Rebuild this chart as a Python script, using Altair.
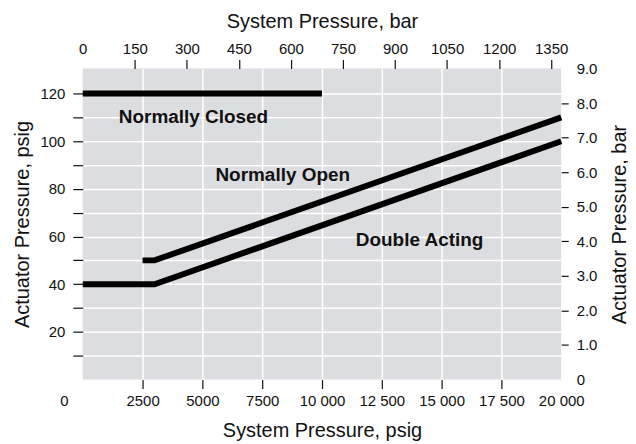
import altair as alt
import pandas as pd

# ---- data ----
closed_x = [0, 10000]
closed_y = [120, 120]
open_x = [2500, 3000, 20000]
open_y = [50, 50, 110]
double_x = [0, 3000, 20000]
double_y = [40, 40, 100]

label_text = ["Normally Closed", "Normally Open", "Double Acting"]
label_x = [4630, 8360, 14080]
label_y = [110.3, 85.8, 58.5]

psig_ticks = [0, 2500, 5000, 7500, 10000, 12500, 15000, 17500, 20000]
bar_sys_ticks = [0, 150, 300, 450, 600, 750, 900, 1050, 1200, 1350]
act_psig_ticks = [10, 20, 30, 40, 50, 60, 70, 80, 90, 100, 110, 120]
act_psig_labels = [20, 40, 60, 80, 100, 120]
act_bar_ticks = [0, 1, 2, 3, 4, 5, 6, 7, 8, 9]

PSI_PER_BAR = 14.5038
X_MAX = 20000
BAR_MAX = 9.0
Y_MAX = BAR_MAX * PSI_PER_BAR

rows = []
for name, xs, ys in [("Normally Closed", closed_x, closed_y),
                     ("Normally Open", open_x, open_y),
                     ("Double Acting", double_x, double_y)]:
    for i, (x, y) in enumerate(zip(xs, ys)):
        rows.append({"series": name, "order": i, "x": x, "y": y})
lines_df = pd.DataFrame(rows)
labels_df = pd.DataFrame({"text": label_text, "x": label_x, "y": label_y})
sec_df = pd.DataFrame({"xb": [0, X_MAX / PSI_PER_BAR], "yb": [0, BAR_MAX]})

FONT = "Liberation Sans"
label_list = "[" + ",".join(str(v) for v in act_psig_labels) + "]"

x_psig = alt.X(
    "x:Q",
    scale=alt.Scale(domain=[0, X_MAX], nice=False, zero=False),
    axis=alt.Axis(
        orient="bottom", title="System Pressure, psig", values=psig_ticks,
        labelExpr="datum.value >= 10000 ? replace(format(datum.value, ','), ',', ' ') : format(datum.value, 'd')",
        labelOverlap=False, labelFlush=False,
        tickSize=9, labelPadding=5, titlePadding=12,
        tickOpacity=alt.expr("datum.value == 0 || datum.value == 20000 ? 0 : 1"),
        gridOpacity=alt.expr("datum.value == 0 || datum.value == 20000 ? 0 : 1"),
        labelOffset=alt.expr("datum.value == 0 ? -19 : 0"),
        grid=True, domain=False,
    ),
)
y_psig = alt.Y(
    "y:Q",
    scale=alt.Scale(domain=[0, Y_MAX], nice=False),
    axis=alt.Axis(
        orient="left", title="Actuator Pressure, psig", values=act_psig_ticks,
        labelExpr="indexof(" + label_list + ", datum.value) >= 0 ? format(datum.value, 'd') : ''",
        labelOverlap=False, labelFlush=False,
        tickSize=10, labelPadding=8, titlePadding=7,
        grid=True, domain=False,
    ),
)

lines = alt.Chart(lines_df).mark_line(
    color="black", strokeWidth=6, strokeCap="butt", strokeJoin="miter"
).encode(x=x_psig, y=y_psig, detail="series:N", order="order:Q")

texts = alt.Chart(labels_df).mark_text(
    font=FONT, fontSize=19, fontWeight="bold", color="#111", baseline="middle", align="center"
).encode(x=x_psig, y=y_psig, text="text:N")

main = alt.layer(lines, texts)

sec = alt.Chart(sec_df).mark_point(opacity=0).encode(
    x=alt.X(
        "xb:Q",
        scale=alt.Scale(domain=[0, X_MAX / PSI_PER_BAR], nice=False),
        axis=alt.Axis(
            orient="top", title="System Pressure, bar", values=bar_sys_ticks,
            labelExpr="format(datum.value, 'd')", labelOverlap=False, labelFlush=False,
            tickSize=9, labelPadding=3, titlePadding=10, grid=False, domain=False,
            tickOpacity=alt.expr("datum.value == 0 ? 0 : 1"),
        ),
    ),
    y=alt.Y(
        "yb:Q",
        scale=alt.Scale(domain=[0, BAR_MAX], nice=False),
        axis=alt.Axis(
            orient="right", title="Actuator Pressure, bar", values=act_bar_ticks,
            labelExpr="datum.value == 0 ? '0' : format(datum.value, '.1f')",
            labelOverlap=False, labelFlush=False,
            tickSize=7, labelPadding=8, titlePadding=13, grid=False, domain=False,
            titleAngle=270, titleBaseline="top",
            tickOpacity=alt.expr("datum.value == 0 || datum.value == 9 ? 0 : 1"),
        ),
    ),
)

chart = alt.layer(main, sec).resolve_scale(
    x="independent", y="independent"
).properties(
    width=480, height=312,
    autosize=alt.AutoSizeParams(type="none"),
    padding={"left": 75, "top": 60, "right": 67, "bottom": 62},
).configure_view(
    fill="#dcdde0", stroke=None
).configure_axis(
    labelFont=FONT, labelFontSize=15, labelColor="#111",
    titleFont=FONT, titleFontSize=20, titleFontWeight="normal", titleColor="#111",
    tickColor="#111", tickWidth=1.2,
    gridColor="white", gridWidth=1.5, gridOpacity=1,
)

chart.save("out.html", embed_options={"renderer": "svg", "actions": False})
